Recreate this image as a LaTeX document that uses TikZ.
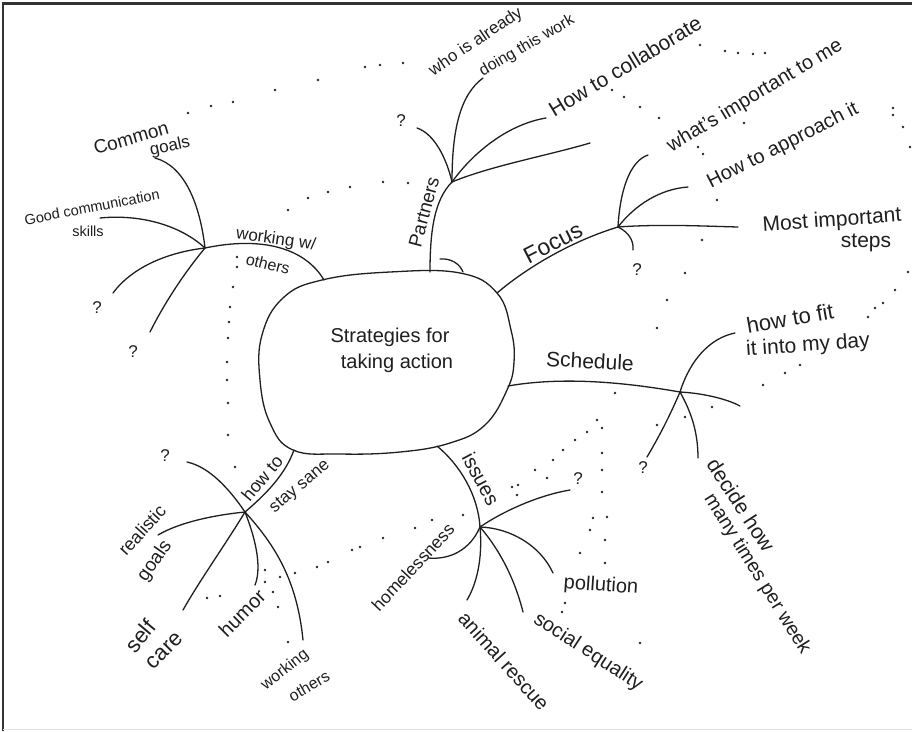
\documentclass[tikz,border=0pt]{standalone}
\usepackage{fontspec}
\setmainfont{Liberation Sans}
\newcommand\fsz[1]{\fontsize{#1}{#1}\selectfont}
\tikzset{
  br/.style={line width=1.3pt, line cap=round, line join=round, black!88},
  lb/.style={inner sep=0pt, text=black!88, anchor=center},
  dotmark/.style={fill=black!85},
}
\begin{document}
\begin{tikzpicture}[x=1pt,y=-1pt]
\useasboundingbox (0,0) rectangle (912,731);
\fill[white] (0,0) rectangle (912,731);
\draw[line width=2.6pt, black!80] (3,731) -- (3,3.5) -- (912,3.5);
\draw[line width=1.5pt, black!12] (3,729.5) -- (912,729.5);

% ---------- central blob ----------
\draw[br] plot[smooth cycle, tension=0.7] coordinates {(322,280) (390,272) (460,273) (497,293) (511,330) (514,362) (507,390) (485,425) (450,443) (400,452) (340,454) (293,450) (270,423) (260,380) (262,335) (283,298)};
\node[lb, align=center, font=\fsz{20}] (core) at (390,350) {Strategies for\\[6pt]\hspace*{14pt}taking action};

% attachment points on the blob
\coordinate (bW) at (324,280);
\coordinate (bP) at (430,272);
\coordinate (bF) at (497,293);
\coordinate (bS) at (508,386);
\coordinate (bI) at (437,446);
\coordinate (bN) at (294,450);

% hubs
\coordinate (wH) at (205,248);
\coordinate (pH) at (452,182);
\coordinate (fH) at (618,227);
\coordinate (sH) at (680,392);
\coordinate (iH) at (480,527);
\coordinate (nH) at (245,512);

% ---------- working w/ others ----------
\draw[br] (bW) .. controls (305,248) and (262,236) .. (wH);
\node[lb, font=\fsz{17}, rotate=-8] (wlab) at (276,240) {working w/};
\node[lb, font=\fsz{16}, rotate=-14] (wlab2) at (268,264) {others};
\coordinate (wC) at (155,158);
\coordinate (wG) at (100,218);
\coordinate (wQ1) at (113,293);
\coordinate (wQ2) at (150,332);
\draw[br] (wH) .. controls (200,205) and (185,166) .. (wC);
\draw[br] (wH) .. controls (180,225) and (140,214) .. (wG);
\draw[br] (wH) .. controls (170,252) and (133,266) .. (wQ1);
\draw[br] (wH) .. controls (185,272) and (165,302) .. (wQ2);
\node[lb, font=\fsz{19}, rotate=16] (common) at (131,138) {Common};
\node[lb, font=\fsz{17}, rotate=12] (goals1) at (170,147) {goals};
\node[lb, font=\fsz{14.5}, rotate=11] (goodc) at (92,207) {Good communication};
\node[lb, font=\fsz{14.5}] (skills) at (88,231) {skills};
\node[lb, font=\fsz{17}] (q1) at (97,308) {?};
\node[lb, font=\fsz{17}] (q2) at (133,352) {?};

% ---------- Partners ----------
\draw[br] (bP) .. controls (430,232) and (434,200) .. (pH);
\draw[br] (440,259) .. controls (451,258) and (460,264) .. (463,272);
\node[lb, font=\fsz{19}, rotate=75] (partners) at (424,212) {Partners};
\coordinate (pQ) at (417,128);
\coordinate (pW) at (483,78);
\coordinate (pC) at (546,118);
\coordinate (pS) at (590,143);
\draw[br] (pH) .. controls (447,160) and (435,134) .. (pQ);
\draw[br] (pH) .. controls (452,130) and (460,95) .. (pW);
\draw[br] (pH) .. controls (475,150) and (510,124) .. (pC);
\draw[br] (pH) .. controls (490,166) and (550,155) .. (pS);
\node[lb, font=\fsz{17}] (q3) at (401,121) {?};
\node[lb, font=\fsz{17}, rotate=34] (who) at (476,42) {who is already};
\node[lb, font=\fsz{16}, rotate=30] (doing) at (527,46) {doing this work};
\node[lb, font=\fsz{21}, rotate=31] (collab) at (625,66) {How to collaborate};

% ---------- Focus ----------
\draw[br] (bF) .. controls (530,265) and (575,240) .. (fH);
\node[lb, font=\fsz{23}, rotate=27] (focus) at (553,243) {Focus};
\coordinate (fW) at (648,155);
\coordinate (fA) at (688,187);
\coordinate (fM) at (738,227);
\coordinate (fQ) at (633,250);
\draw[br] (fH) .. controls (620,190) and (630,161) .. (fW);
\draw[br] (fH) .. controls (635,205) and (660,189) .. (fA);
\draw[br] (fH) .. controls (660,224) and (700,226) .. (fM);
\draw[br] (fH) .. controls (628,232) and (634,240) .. (fQ);
\node[lb, font=\fsz{20}, rotate=31] (whats) at (755,96) {what's important to me};
\node[lb, font=\fsz{20}, rotate=27] (approach) at (783,146) {How to approach it};
\node[lb, font=\fsz{21}, rotate=4] (most) at (832,221) {Most important};
\node[lb, font=\fsz{21}] (steps) at (866,243) {steps};
\node[lb, font=\fsz{17}] (q4) at (637,270) {?};

% ---------- Schedule ----------
\draw[br] (bS) .. controls (570,375) and (640,385) .. (sH);
\node[lb, font=\fsz{21}, rotate=-3] (sched) at (590,361) {Schedule};
\coordinate (sF) at (735,333);
\coordinate (sR) at (740,406);
\coordinate (sQ) at (647,457);
\coordinate (sD) at (698,458);
\draw[br] (sH) .. controls (690,360) and (710,338) .. (sF);
\draw[br] (sH) .. controls (700,393) and (725,398) .. (sR);
\draw[br] (sH) .. controls (668,420) and (657,440) .. (sQ);
\draw[br] (sH) .. controls (690,410) and (698,430) .. (sD);
\node[lb, font=\fsz{22}, rotate=10] (fit) at (790,318) {how to fit};
\node[lb, font=\fsz{21}, rotate=4] (day) at (808,346) {it into my day};
\node[lb, font=\fsz{17}] (q5) at (643,468) {?};
\node[lb, font=\fsz{21}, rotate=-57] (decide) at (741,505) {decide how};
\node[lb, font=\fsz{19.5}, rotate=-58] (many) at (757,574) {many times per week};

% ---------- issues ----------
\draw[br] (bI) .. controls (460,465) and (478,495) .. (iH);
\node[lb, font=\fsz{20}, rotate=-62] (issues) at (481,479) {issues};
\coordinate (iQ) at (570,490);
\coordinate (iP) at (553,573);
\coordinate (iS) at (523,612);
\coordinate (iA) at (467,600);
\coordinate (iHm) at (428,558);
\draw[br] (iH) .. controls (505,510) and (540,495) .. (iQ);
\draw[br] (iH) .. controls (510,528) and (540,545) .. (iP);
\draw[br] (iH) .. controls (500,550) and (515,580) .. (iS);
\draw[br] (iH) .. controls (483,560) and (476,585) .. (iA);
\draw[br] (iH) .. controls (470,550) and (450,560) .. (iHm);
\node[lb, font=\fsz{17}] (q6) at (578,479) {?};
\node[lb, font=\fsz{20}, rotate=-4] (pollution) at (601,586) {pollution};
\node[lb, font=\fsz{20}, rotate=-33] (social) at (588,652) {social equality};
\node[lb, font=\fsz{20}, rotate=-48] (animal) at (504,661) {animal rescue};
\node[lb, font=\fsz{17.5}, rotate=47] (homeless) at (413,567) {homelessness};

% ---------- how to stay sane ----------
\draw[br] (bN) .. controls (285,475) and (265,495) .. (nH);
\node[lb, font=\fsz{18}, rotate=50] (howto) at (262,478) {how to};
\node[lb, font=\fsz{17}, rotate=40] (sane) at (300,487) {stay sane};
\coordinate (nQ) at (187,462);
\coordinate (nR) at (158,535);
\coordinate (nSc) at (183,610);
\coordinate (nHu) at (255,585);
\coordinate (nW) at (303,640);
\draw[br] (nH) .. controls (230,490) and (210,467) .. (nQ);
\draw[br] (nH) .. controls (215,515) and (180,522) .. (nR);
\draw[br] (nH) .. controls (225,545) and (200,580) .. (nSc);
\draw[br] (nH) .. controls (258,545) and (261,570) .. (nHu);
\draw[br] (nH) .. controls (275,545) and (297,580) .. (nW);
\node[lb, font=\fsz{17}] (q7) at (165,456) {?};
\node[lb, font=\fsz{18}, rotate=48] (realistic) at (142,530) {realistic};
\node[lb, font=\fsz{19}, rotate=55] (goals2) at (155,561) {goals};
\node[lb, font=\fsz{22}, rotate=50] (self) at (140,636) {self};
\node[lb, font=\fsz{22}, rotate=45] (care) at (165,651) {care};
\node[lb, font=\fsz{20}, rotate=45] (humor) at (242,613) {humor};
\node[lb, font=\fsz{16}, rotate=38] (working) at (285,670) {working};
\node[lb, font=\fsz{16}, rotate=30] (others2) at (309,686) {others};

% ---------- dotted links ----------
\foreach \p in {
  (188,113),(211,106),(233,102),(275,90),(318,80),(365,67),(380,65),(403,63),
  (288,210),(308,198),(328,192),(350,187),(383,182),(408,183),
  (237,257),(237,267),(233,287),(230,307),(229,322),(228,338),(227,362),(227,380),(228,403),(228,435),(235,467),
  (700,45),(725,51),(738,53),(753,54),(765,53),
  (893,108),(893,115),(903,127),(910,147),(908,272),(895,290),(883,303),(875,308),(868,317),
  (800,365),(785,373),(763,385),(712,407),(685,417),(657,425),
  (612,90),(624,97),(640,107),(659,118),(698,147),(703,154),(744,123),
  (717,200),(702,240),(685,273),(667,300),(657,328),
  (615,393),(597,420),(587,432),(575,440),(563,450),(553,460),(547,478),(535,470),(518,485),(512,487),(517,495),
  (602,428),(602,453),(602,470),(602,492),(607,517),(605,540),(605,563),
  (593,518),(590,530),(580,553),(565,603),(562,612),(640,643),
  (295,573),(317,567),(328,562),(352,550),(360,547),(383,538),(415,528),(432,520),(463,515),
  (207,598),(220,596),(265,570),(265,582),(280,577),(273,592),(278,607),(288,642)
} \fill[dotmark] \p circle (1.4);
\end{tikzpicture}
\end{document}
